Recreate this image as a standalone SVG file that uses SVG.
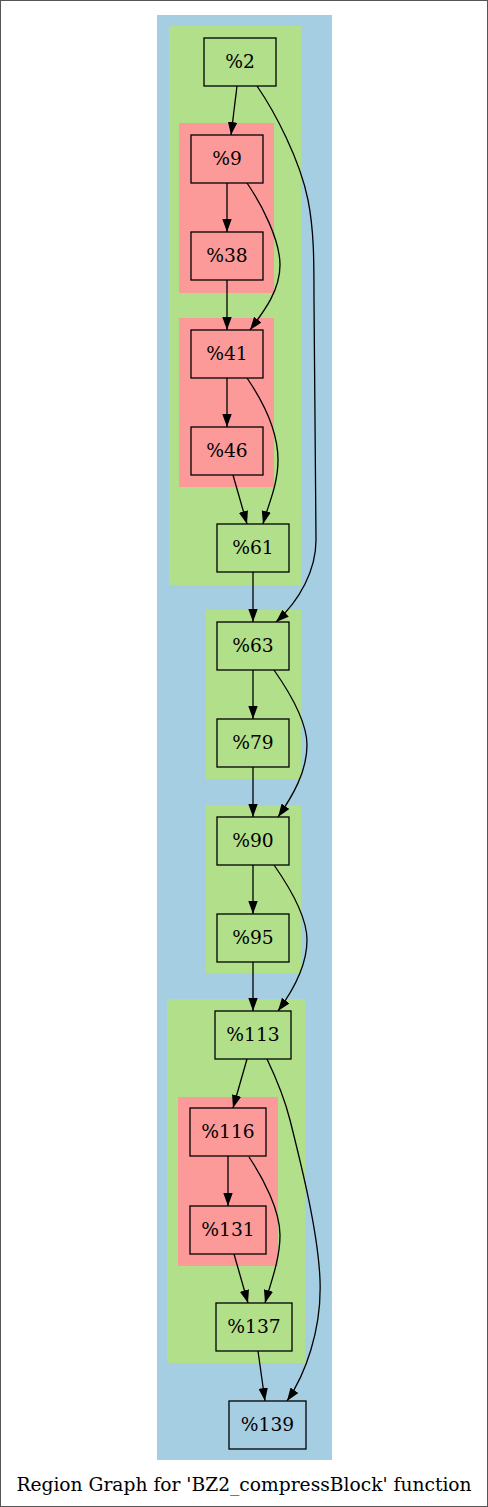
<svg xmlns="http://www.w3.org/2000/svg" width="488" height="1507" viewBox="0 0 488 1507">
<style>
.node rect{stroke:#000;stroke-width:1.3}
.g rect{fill:#b2df8a}
.r rect{fill:#fb9a99}
.b rect{fill:#a6cee3}
.node text,.title{font-family:"DejaVu Serif","Liberation Serif",serif;font-size:18.67px;text-anchor:middle;fill:#000}
#edges path{fill:none;stroke:#000;stroke-width:1.3;marker-end:url(#ah)}
</style>
<defs>
<marker id="ah" viewBox="0 0 13 9.4" refX="13" refY="4.7" markerWidth="13" markerHeight="9.4" markerUnits="userSpaceOnUse" orient="auto">
<path d="M0,0 L13,4.7 L0,9.4 z" fill="#000"/>
</marker>
</defs>
<rect x="0.5" y="0.5" width="487" height="1506" fill="#fff" stroke="#555" stroke-width="1"/>
<g id="clusters">
<rect x="157" y="15" width="175" height="1445" fill="#a6cee3"/>
<rect x="169" y="26" width="132" height="559" fill="#b2df8a"/>
<rect x="179" y="123" width="95" height="170" fill="#fb9a99"/>
<rect x="179" y="318" width="95" height="169" fill="#fb9a99"/>
<rect x="206" y="610" width="95" height="169" fill="#b2df8a"/>
<rect x="206" y="805" width="95" height="168" fill="#b2df8a"/>
<rect x="167" y="999" width="138" height="364" fill="#b2df8a"/>
<rect x="178" y="1097" width="100" height="169" fill="#fb9a99"/>
</g>
<g id="edges">
<path d="M237,86 L231,135"/>
<path d="M257,86 C275,112 300,160 308,200 C314,230 314,260 314,300 L316,540 C316,570 300,600 276,622"/>
<path d="M227,183 L227,232"/>
<path d="M247,183 C262,205 280,240 280,265 C280,290 265,310 250,330"/>
<path d="M227,280 L227,330"/>
<path d="M227,378 L227,427"/>
<path d="M247,378 C262,400 278,430 278,460 C278,485 268,505 263,524"/>
<path d="M233,475 L247,524"/>
<path d="M253,572 L253,622"/>
<path d="M253,670 L253,719"/>
<path d="M274,670 C288,690 307,720 307,745 C307,772 292,797 278,817"/>
<path d="M253,767 L253,817"/>
<path d="M253,865 L253,914"/>
<path d="M274,865 C288,885 307,915 307,940 C307,967 292,992 278,1011"/>
<path d="M253,962 L253,1011"/>
<path d="M247,1059 L233,1108"/>
<path d="M267,1059 C277,1080 285,1100 290,1120 C300,1160 318,1230 320,1280 C322,1330 305,1375 287,1401"/>
<path d="M228,1156 L228,1206"/>
<path d="M249,1157 C263,1178 280,1210 280,1235 C280,1260 270,1285 265,1303"/>
<path d="M234,1254 L248,1303"/>
<path d="M258,1351 L265,1401"/>
</g>
<g id="n2" class="node g"><rect x="204" y="38" width="72" height="48"/><text x="240" y="67.7">%2</text></g>
<g id="n9" class="node r"><rect x="191" y="135" width="72" height="48"/><text x="227" y="164.7">%9</text></g>
<g id="n38" class="node r"><rect x="191" y="232" width="72" height="48"/><text x="227" y="261.7">%38</text></g>
<g id="n41" class="node r"><rect x="191" y="330" width="72" height="48"/><text x="227" y="359.7">%41</text></g>
<g id="n46" class="node r"><rect x="191" y="427" width="72" height="48"/><text x="227" y="456.7">%46</text></g>
<g id="n61" class="node g"><rect x="217" y="524" width="72" height="48"/><text x="253" y="553.7">%61</text></g>
<g id="n63" class="node g"><rect x="217" y="622" width="72" height="48"/><text x="253" y="651.7">%63</text></g>
<g id="n79" class="node g"><rect x="217" y="719" width="72" height="48"/><text x="253" y="748.7">%79</text></g>
<g id="n90" class="node g"><rect x="217" y="817" width="72" height="48"/><text x="253" y="846.7">%90</text></g>
<g id="n95" class="node g"><rect x="217" y="914" width="72" height="48"/><text x="253" y="943.7">%95</text></g>
<g id="n113" class="node g"><rect x="215" y="1011" width="76" height="48"/><text x="253" y="1040.7">%113</text></g>
<g id="n116" class="node r"><rect x="190" y="1108" width="76" height="48"/><text x="228" y="1137.7">%116</text></g>
<g id="n131" class="node r"><rect x="190" y="1206" width="76" height="48"/><text x="228" y="1235.7">%131</text></g>
<g id="n137" class="node g"><rect x="216" y="1303" width="76" height="48"/><text x="254" y="1332.7">%137</text></g>
<g id="n139" class="node b"><rect x="229" y="1401" width="77" height="48"/><text x="267.5" y="1430.7">%139</text></g>
<text class="title" x="244" y="1490.5">Region Graph for 'BZ2_compressBlock' function</text>
</svg>
